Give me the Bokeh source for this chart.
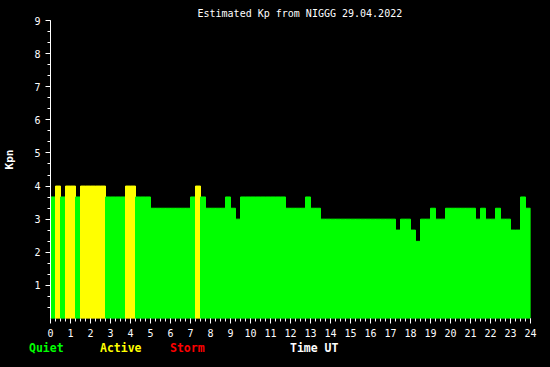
import re
from bokeh.plotting import figure
from bokeh.layouts import column
from bokeh.models import ColumnDataSource, FixedTicker, Range1d, Div
from bokeh.embed import file_html
from bokeh.resources import INLINE

# 15-minute estimated Kp values (96 intervals, 00:00-24:00 UT)
kp_values = (
    [3.67, 4.0, 3.67, 4.0, 4.0, 3.67]
    + [4.0] * 5 + [3.67] * 4 + [4.0] * 2 + [3.67] * 3
    + [3.33] * 8 + [3.67, 4.0, 3.67] + [3.33] * 4 + [3.67, 3.33, 3.0]
    + [3.67] * 9 + [3.33] * 4 + [3.67] + [3.33] * 2
    + [3.0] * 15 + [2.67] + [3.0] * 2 + [2.67, 2.33] + [3.0] * 2
    + [3.33] + [3.0] * 2 + [3.33] * 6 + [3.0, 3.33] + [3.0] * 2
    + [3.33] + [3.0] * 2 + [2.67] * 2 + [3.67, 3.33]
)
interval_hours = 0.25
x_tick_values = list(range(0, 25))
y_tick_values = list(range(1, 10))

title_text = "Estimated Kp from NIGGG 29.04.2022"
y_label = "Kpn"
legend_names = ["Quiet", "Active", "Storm", "Time UT"]
legend_colors = ["#00ff00", "#ffff00", "#ff0000", "#ffffff"]


def kp_color(v):
    if v >= 5:
        return legend_colors[2]
    if v >= 4:
        return legend_colors[1]
    return legend_colors[0]


starts = [i * interval_hours for i in range(len(kp_values))]
src = ColumnDataSource(dict(
    x=[s + interval_hours / 2 for s in starts],
    top=kp_values,
    color=[kp_color(v) for v in kp_values],
))

FONT = "DejaVu Sans Mono"
W = 550
H_MAIN, H_LEG = 340, 27
BL, BR, BT, BB = 50, 20, 20, 22

p = figure(width=W, height=H_MAIN, output_backend="svg", toolbar_location=None,
           x_range=Range1d(0, 24), y_range=Range1d(0, 9),
           min_border_left=BL, min_border_right=BR,
           min_border_top=BT, min_border_bottom=BB,
           title=title_text)
p.background_fill_color = "black"
p.border_fill_color = "black"
p.outline_line_color = None
p.xgrid.grid_line_color = None
p.ygrid.grid_line_color = None
p.styles = {"background-color": "black"}

p.title.text_color = "white"
p.title.text_font = FONT
p.title.text_font_size = "10px"
p.title.text_font_style = "normal"
p.title.align = "left"
p.title.offset = 147
p.title.standoff = 4

p.vbar(x="x", top="top", width=interval_hours, bottom=0, fill_color="color",
       line_color="color", line_width=1, source=src)

# x axis
xa = p.xaxis[0]
xa.ticker = FixedTicker(ticks=x_tick_values,
                        minor_ticks=[i * interval_hours for i in range(97)])
xa.axis_line_color = None
xa.major_tick_line_color = "white"
xa.minor_tick_line_color = "white"
xa.major_tick_in = 0
xa.major_tick_out = 5
xa.minor_tick_in = 0
xa.minor_tick_out = 3
xa.major_label_text_color = "white"
xa.major_label_text_font = FONT
xa.major_label_text_font_size = "10px"
xa.major_label_standoff = 5

# y axis
ya = p.yaxis[0]
ya.ticker = FixedTicker(ticks=y_tick_values,
                        minor_ticks=[k / 3 for k in range(1, 28)])
ya.axis_line_color = "white"
ya.major_tick_line_color = "white"
ya.minor_tick_line_color = "white"
ya.major_tick_in = 0
ya.major_tick_out = 5
ya.minor_tick_in = 0
ya.minor_tick_out = 3
ya.major_label_text_color = "white"
ya.major_label_text_font = FONT
ya.major_label_text_font_size = "10px"
ya.major_label_standoff = 5
# leading no-break spaces lift the label slightly above the frame centre
ya.axis_label = "\u00a0\u00a0\u00a0" + y_label
ya.axis_label_text_color = "white"
ya.axis_label_text_font = FONT
ya.axis_label_text_font_size = "11px"
ya.axis_label_text_font_style = "bold"
ya.axis_label_standoff = 15

# caption strip under the chart: coloured activity legend and time label
leg_left = [29, 100, 170, 290]
spans = "".join(
    f'<span style="position:absolute;left:{x}px;top:2px;color:{c};">{t}</span>'
    for t, c, x in zip(legend_names, legend_colors, leg_left)
)
leg = Div(
    text=(f'<div style="position:relative;width:{W}px;height:{H_LEG}px;'
          f'background:#000;font-family:\'{FONT}\',monospace;font-size:11.5px;'
          f'font-weight:bold;line-height:13px;white-space:pre;">{spans}</div>'),
    width=W, height=H_LEG, margin=0,
    styles={"background-color": "black"},
)

layout = column(p, leg, spacing=0)
layout.styles = {"background-color": "black"}
html = file_html(layout, INLINE)
html = re.sub(r"<body([^>]*)>", r'<body\1 style="margin:0;background:#000;">', html, count=1)
open("out.html", "w").write(html)
